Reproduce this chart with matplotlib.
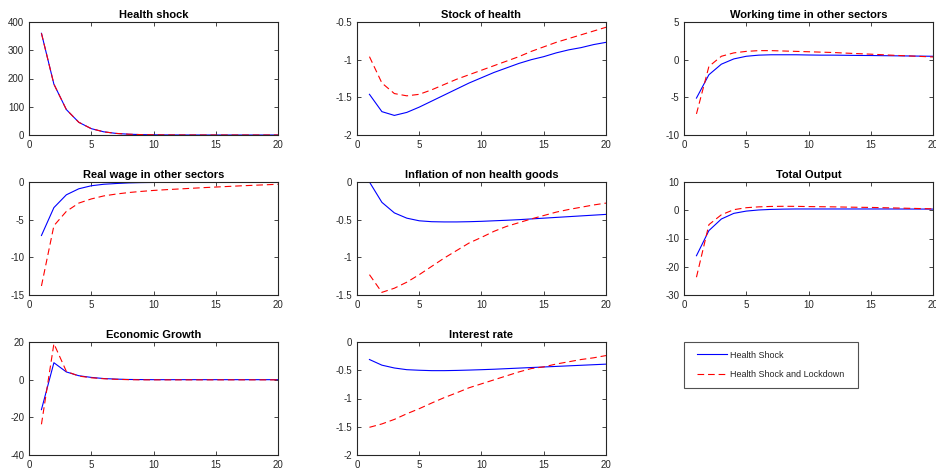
import numpy as np
import matplotlib
matplotlib.use("Agg")
import matplotlib.pyplot as plt
from matplotlib.lines import Line2D
from matplotlib.legend_handler import HandlerLine2D

plt.rcParams["font.family"] = ["Liberation Sans", "DejaVu Sans"]

periods = list(range(1, 21))

health_shock_base = [360, 180, 90, 45, 22.5, 11.3, 5.6, 2.8, 1.4, 0.7,
                     0.35, 0.18, 0.09, 0.04, 0.02, 0.01, 0.005, 0.0, 0.0, 0.0]
health_shock_lock = [360, 180, 90, 45, 22.5, 11.3, 5.6, 2.8, 1.4, 0.7,
                     0.35, 0.18, 0.09, 0.04, 0.02, 0.01, 0.005, 0.0, 0.0, 0.0]

stock_health_base = [-1.46, -1.69, -1.74, -1.70, -1.63, -1.55, -1.47, -1.39, -1.31, -1.24,
                     -1.17, -1.11, -1.05, -1.00, -0.96, -0.91, -0.87, -0.84, -0.80, -0.77]
stock_health_lock = [-0.96, -1.31, -1.45, -1.48, -1.46, -1.40, -1.33, -1.26, -1.20, -1.14,
                     -1.08, -1.02, -0.96, -0.89, -0.83, -0.77, -0.72, -0.67, -0.62, -0.57]

work_time_base = [-5.1, -2.0, -0.6, 0.1, 0.45, 0.6, 0.65, 0.65, 0.65, 0.62,
                  0.6, 0.6, 0.58, 0.56, 0.55, 0.53, 0.51, 0.49, 0.47, 0.45]
work_time_lock = [-7.2, -0.9, 0.45, 0.9, 1.1, 1.2, 1.2, 1.15, 1.1, 1.05,
                  1.0, 0.95, 0.87, 0.8, 0.73, 0.65, 0.57, 0.5, 0.43, 0.36]

real_wage_base = [-7.1, -3.4, -1.7, -0.9, -0.5, -0.3, -0.2, -0.12, -0.08, -0.06,
                  -0.05, -0.05, -0.05, -0.05, -0.05, -0.05, -0.05, -0.05, -0.05, -0.05]
real_wage_lock = [-13.8, -5.8, -3.9, -2.8, -2.25, -1.85, -1.6, -1.4, -1.25, -1.12,
                  -1.02, -0.93, -0.84, -0.75, -0.67, -0.59, -0.51, -0.44, -0.37, -0.30]

inflation_base = [0.0, -0.27, -0.41, -0.48, -0.515, -0.527, -0.53, -0.53, -0.527, -0.522,
                  -0.515, -0.508, -0.5, -0.49, -0.48, -0.47, -0.46, -0.45, -0.44, -0.43]
inflation_lock = [-1.23, -1.465, -1.41, -1.33, -1.23, -1.12, -1.01, -0.91, -0.81, -0.735,
                  -0.655, -0.59, -0.54, -0.49, -0.445, -0.40, -0.365, -0.335, -0.305, -0.28]

output_base = [-16.1, -7.2, -3.1, -1.1, -0.3, 0.1, 0.3, 0.4, 0.45, 0.45,
               0.45, 0.45, 0.45, 0.45, 0.45, 0.45, 0.44, 0.43, 0.42, 0.41]
output_lock = [-23.7, -5.1, -1.6, 0.2, 0.9, 1.2, 1.35, 1.4, 1.38, 1.3,
               1.25, 1.2, 1.12, 1.05, 1.0, 0.9, 0.8, 0.7, 0.6, 0.5]

growth_base = [-15.9, 9.0, 4.1, 2.1, 1.2, 0.6, 0.3, 0.1, 0.05, 0.0,
               0.0, 0.0, 0.0, 0.0, 0.0, 0.0, 0.0, 0.0, 0.0, 0.0]
growth_lock = [-23.7, 19.1, 4.4, 1.9, 1.0, 0.5, 0.2, 0.0, -0.1, -0.1,
               -0.1, -0.1, -0.1, -0.1, -0.1, -0.1, -0.1, -0.1, -0.1, -0.1]

interest_base = [-0.31, -0.41, -0.46, -0.49, -0.50, -0.507, -0.507, -0.503, -0.497, -0.49,
                 -0.482, -0.472, -0.462, -0.452, -0.442, -0.432, -0.422, -0.412, -0.402, -0.392]
interest_lock = [-1.51, -1.45, -1.37, -1.27, -1.18, -1.08, -0.985, -0.90, -0.81, -0.74,
                 -0.67, -0.60, -0.53, -0.47, -0.44, -0.39, -0.35, -0.31, -0.28, -0.24]

titles = ["Health shock", "Stock of health", "Working time in other sectors",
          "Real wage in other sectors", "Inflation of non health goods", "Total Output",
          "Economic Growth", "Interest rate"]
series = [(health_shock_base, health_shock_lock), (stock_health_base, stock_health_lock),
          (work_time_base, work_time_lock), (real_wage_base, real_wage_lock),
          (inflation_base, inflation_lock), (output_base, output_lock),
          (growth_base, growth_lock), (interest_base, interest_lock)]
ylims = [(0, 400), (-2, -0.5), (-10, 5), (-15, 0), (-1.5, 0), (-30, 10), (-40, 20), (-2, 0)]
yticks = [[0, 100, 200, 300, 400], [-2, -1.5, -1, -0.5], [-10, -5, 0, 5], [-15, -10, -5, 0],
          [-1.5, -1, -0.5, 0], [-30, -20, -10, 0, 10], [-40, -20, 0, 20], [-2, -1.5, -1, -0.5, 0]]
xticks = [0, 5, 10, 15, 20]
legend_labels = ["Health Shock", "Health Shock and Lockdown"]

W, H = 936, 474
fig = plt.figure(figsize=(W / 100, H / 100), dpi=100)

# panel grid in pixels (3 columns x 3 rows)
col_left = [29, 357, 684]
row_top = [22, 182, 342]
aw, ah = 249, 113

axis_gray = "#262626"
dash = (0, (6, 3.5))

lines = None
for i, (title, (b, l)) in enumerate(zip(titles, series)):
    r, c = divmod(i, 3)
    x0 = col_left[c] / W
    y0 = 1 - (row_top[r] + ah) / H
    ax = fig.add_axes([x0, y0, aw / W, ah / H])
    hb, = ax.plot(periods, b, color="#0000ff", lw=0.8)
    hl, = ax.plot(periods, l, color="#ff0000", lw=0.8, ls=dash)
    lines = (hb, hl)
    ax.set_xlim(0, 20)
    ax.set_ylim(*ylims[i])
    ax.set_xticks(xticks)
    ax.set_yticks(yticks[i])
    ax.set_yticklabels(["%g" % v for v in yticks[i]])
    ax.tick_params(direction="in", length=3, width=0.6, top=True, right=True,
                   labelsize=7, colors=axis_gray, pad=3.5)
    for sp in ax.spines.values():
        sp.set_color(axis_gray)
        sp.set_linewidth(0.8)
    ax.set_title(title, fontsize=8, fontweight="bold", pad=3)

leg_ax = fig.add_axes([684 / W, 1 - 389 / H, (858 - 684) / W, (389 - 341) / H])
leg_ax.axis("off")
leg = leg_ax.legend(lines, legend_labels, loc="center", bbox_to_anchor=(0, 0, 1, 1),
                    mode="expand", fontsize=6.5, frameon=True, fancybox=False,
                    handlelength=3.86, handletextpad=0.33, labelspacing=1.2,
                    borderpad=0.9, borderaxespad=0,
                    handler_map={Line2D: HandlerLine2D(xpad=0.55)})
leg.get_frame().set_edgecolor(axis_gray)
leg.get_frame().set_linewidth(0.8)
for t in leg.get_texts():
    t.set_color(axis_gray)

fig.savefig("out.png", dpi=100)
